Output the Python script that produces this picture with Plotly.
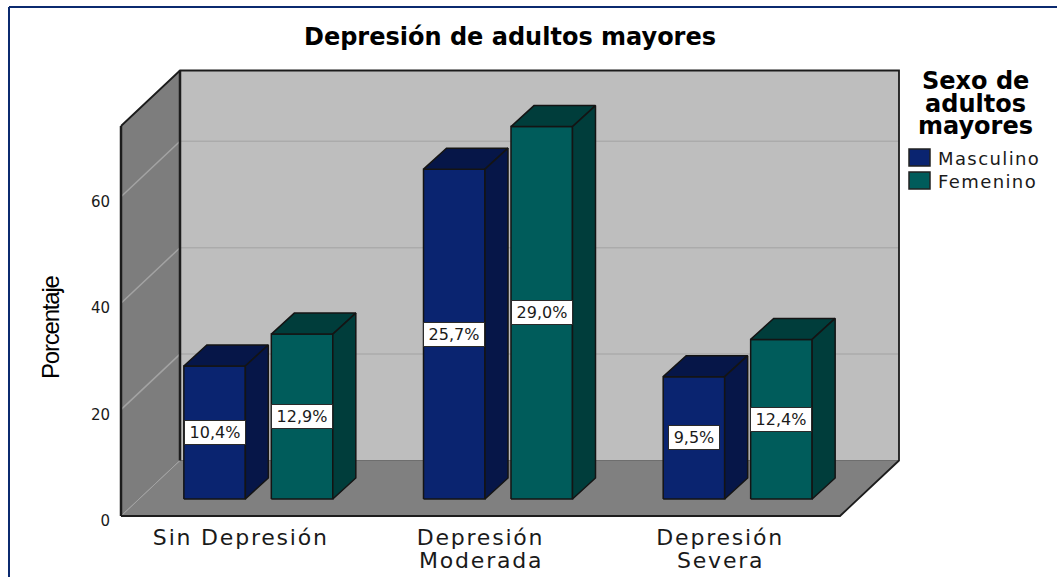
import plotly.graph_objects as go

# ---- data ----
categories = ["Sin Depresión", "Depresión", "Depresión"]
categories_line2 = ["", "Moderada", "Severa"]
series_names = ["Masculino", "Femenino"]
masculino = [25, 62, 23]
femenino = [31, 70, 30]
masculino_labels = ["10,4%", "25,7%", "9,5%"]
femenino_labels = ["12,9%", "29,0%", "12,4%"]
y_ticks = [0, 20, 40, 60]

# ---- layout constants ----
W, H = 1057, 577
ML, MR, MT, MB = 119, 153, 66, 58      # plot area holds the whole oblique room
X_MIN = -0.5
XU = 719 / 3.0                         # px per category
YU = 5.32                              # px per y unit
PW, PH = W - ML - MR, H - MT - MB
Y0 = -(61 - MB) / YU                   # front floor edge (value 0) sits at px 516
XA0 = X_MIN - (121 - ML) / XU          # left wall (x = X_MIN) sits at px 121
X_MAX_AX = XA0 + PW / XU
Y_TOP_AX = Y0 + PH / YU
X_END = 2.5
Y_MAX = (516 - 126) / YU
WALL_DX, WALL_DY = 59 / XU, 55.5 / YU   # oblique depth of the room
BAR_DX0, BAR_DY0 = 17.5 / XU, 17 / YU   # bar front plane offset
BAR_DX, BAR_DY = 23 / XU, 21 / YU       # bar depth
EDGE = "#141414"
colors = {"Masculino": ("#0a2470", "#061648", "#061648"),
          "Femenino": ("#005c5b", "#003d3b", "#003d3b")}
WALL_L, WALL_B, FLOOR = "#7d7d7d", "#bebebe", "#808080"


def px(xp):
    return (xp - ML) / PW


def py(yp):
    return 1 - (yp - MT) / PH


fig = go.Figure()


def poly(xs, ys, fill, line=EDGE, lw=1.5):
    fig.add_trace(go.Scatter(
        x=list(xs) + [xs[0]], y=list(ys) + [ys[0]], mode="lines", fill="toself",
        fillcolor=fill, line=dict(color=line, width=lw), cliponaxis=False,
        hoverinfo="skip", showlegend=False))


def seg(xs, ys, color, lw):
    fig.add_trace(go.Scatter(x=xs, y=ys, mode="lines", line=dict(color=color, width=lw),
                             cliponaxis=False, hoverinfo="skip", showlegend=False))


# room
poly([X_MIN + WALL_DX, X_END + WALL_DX, X_END + WALL_DX, X_MIN + WALL_DX],
     [WALL_DY, WALL_DY, Y_MAX + WALL_DY, Y_MAX + WALL_DY], WALL_B, "#bebebe", 0)
poly([X_MIN, X_MIN + WALL_DX, X_MIN + WALL_DX, X_MIN],
     [0, WALL_DY, Y_MAX + WALL_DY, Y_MAX], WALL_L, WALL_L, 0)
poly([X_MIN, X_END, X_END + WALL_DX, X_MIN + WALL_DX],
     [0, 0, WALL_DY, WALL_DY], FLOOR, FLOOR, 0)
for t in y_ticks[1:]:
    seg([X_MIN, X_MIN + WALL_DX], [t, t + WALL_DY], "#a3a3a3", 1.5)
    seg([X_MIN + WALL_DX, X_END + WALL_DX], [t + WALL_DY, t + WALL_DY], "#ababab", 1.5)
seg([X_MIN, X_MIN + WALL_DX], [0, WALL_DY], "#a3a3a3", 1)
seg([X_MIN + WALL_DX, X_END + WALL_DX], [WALL_DY, WALL_DY], "#6e6e6e", 1)
seg([X_MIN + WALL_DX, X_MIN + WALL_DX], [WALL_DY, Y_MAX + WALL_DY], "#1c1c1c", 2.5)
seg([X_MIN, X_MIN], [0, Y_MAX], "#1c1c1c", 2.5)
seg([X_MIN, X_MIN + WALL_DX, X_END + WALL_DX, X_END + WALL_DX, X_END, X_MIN],
    [Y_MAX, Y_MAX + WALL_DY, Y_MAX + WALL_DY, WALL_DY, 0, 0], "#1c1c1c", 1.8)

# bars
OFF_A, OFF_B = 0.0542, 0.3108
for name, vals, sign in ((series_names[0], masculino, -1), (series_names[1], femenino, 1)):
    front, top, side = colors[name]
    for i, v in enumerate(vals):
        c = i + BAR_DX0
        a, b = sorted((c + sign * OFF_A, c + sign * OFF_B))
        y0, y1 = BAR_DY0, BAR_DY0 + v
        poly([a, b, b, a], [y0, y0, y1, y1], front)
        poly([a, b, b + BAR_DX, a + BAR_DX], [y1, y1, y1 + BAR_DY, y1 + BAR_DY], top)
        poly([b, b + BAR_DX, b + BAR_DX, b], [y0, y0 + BAR_DY, y1 + BAR_DY, y1], side)

FONT = "DejaVu Sans"


def wide(t, sp):
    return '<span style="letter-spacing:%spx">%s</span>' % (sp, t)


ann = []
for vals, labels, sign in ((masculino, masculino_labels, -1), (femenino, femenino_labels, 1)):
    for i, (v, lab) in enumerate(zip(vals, labels)):
        ann.append(dict(x=i + BAR_DX0 + sign * (OFF_A + OFF_B) / 2, y=BAR_DY0 + v / 2, text=lab,
                        showarrow=False, bgcolor="white", bordercolor="#2a2a2a", borderwidth=1,
                        width=60 if len(lab) > 4 else 50, height=23, borderpad=0,
                        font=dict(family=FONT, size=16, color="#1a1a1a")))
# second line of the category labels
for i, t in enumerate(categories_line2):
    if t:
        ann.append(dict(x=i, y=0, yref="y", xref="x", text=wide(t, 1.8), showarrow=False,
                        yanchor="middle", yshift=-44,
                        font=dict(family=FONT, size=22, color="#1a1a1a")))
# axis title
ann.append(dict(x=px(50), y=py(327), xref="paper", yref="paper", text=wide("Porcentaje", -1.2),
                textangle=-90, showarrow=False, xanchor="center", yanchor="middle",
                font=dict(family="Liberation Sans", size=24, color="#000")))
# legend
for line, yp in zip(["Sexo de", "adultos", "mayores"], [81, 104, 126]):
    ann.append(dict(x=px(975), y=py(yp), xref="paper", yref="paper", text="<b>%s</b>" % line,
                    showarrow=False, xanchor="center", yanchor="middle",
                    font=dict(family=FONT, size=24, color="#000")))
shapes = [
    dict(type="line", xref="paper", yref="paper", x0=px(9), x1=px(1057), y0=py(7), y1=py(7),
         line=dict(color="#0b2a6f", width=2)),
    dict(type="line", xref="paper", yref="paper", x0=px(9), x1=px(9), y0=py(7), y1=py(577),
         line=dict(color="#0b2a6f", width=2)),
]
for name, yp in zip(series_names, [149, 172]):
    shapes.append(dict(type="rect", xref="paper", yref="paper", x0=px(909), x1=px(930),
                       y0=py(yp), y1=py(yp + 17), fillcolor=colors[name][0],
                       line=dict(color="#222", width=1.5)))
    ann.append(dict(x=px(936), y=py(yp + 9), xref="paper", yref="paper", text=wide(name, 1.4),
                    xanchor="left", yanchor="middle", showarrow=False,
                    font=dict(family=FONT, size=18, color="#1a1a1a")))

fig.update_layout(
    width=W, height=H, margin=dict(l=ML, r=MR, t=MT, b=MB, pad=0, autoexpand=False),
    paper_bgcolor="white", plot_bgcolor="white", showlegend=False,
    title=dict(text="<b>Depresión de adultos mayores</b>", x=510 / W, xanchor="center",
               y=1 - 37 / H, yanchor="middle", font=dict(family=FONT, size=24, color="#000")),
    xaxis=dict(range=[XA0, X_MAX_AX], tickvals=[0, 1, 2],
               ticktext=[wide(c, 1.8) for c in categories], showgrid=False,
               zeroline=False, showline=False, ticks="", ticklabelstandoff=3,
               tickfont=dict(family=FONT, size=22, color="#1a1a1a"), fixedrange=True),
    yaxis=dict(range=[Y0, Y_TOP_AX], tickvals=y_ticks, showgrid=False, zeroline=False, showline=False,
               ticks="", ticklabelstandoff=8, ticklabelshift=5,
               tickfont=dict(family=FONT, size=15, color="#1a1a1a"), fixedrange=True),
    annotations=ann, shapes=shapes)

fig.write_html("out.html", config={"displayModeBar": False},
               post_script="document.body.style.margin='0';document.body.style.overflow='hidden';")
